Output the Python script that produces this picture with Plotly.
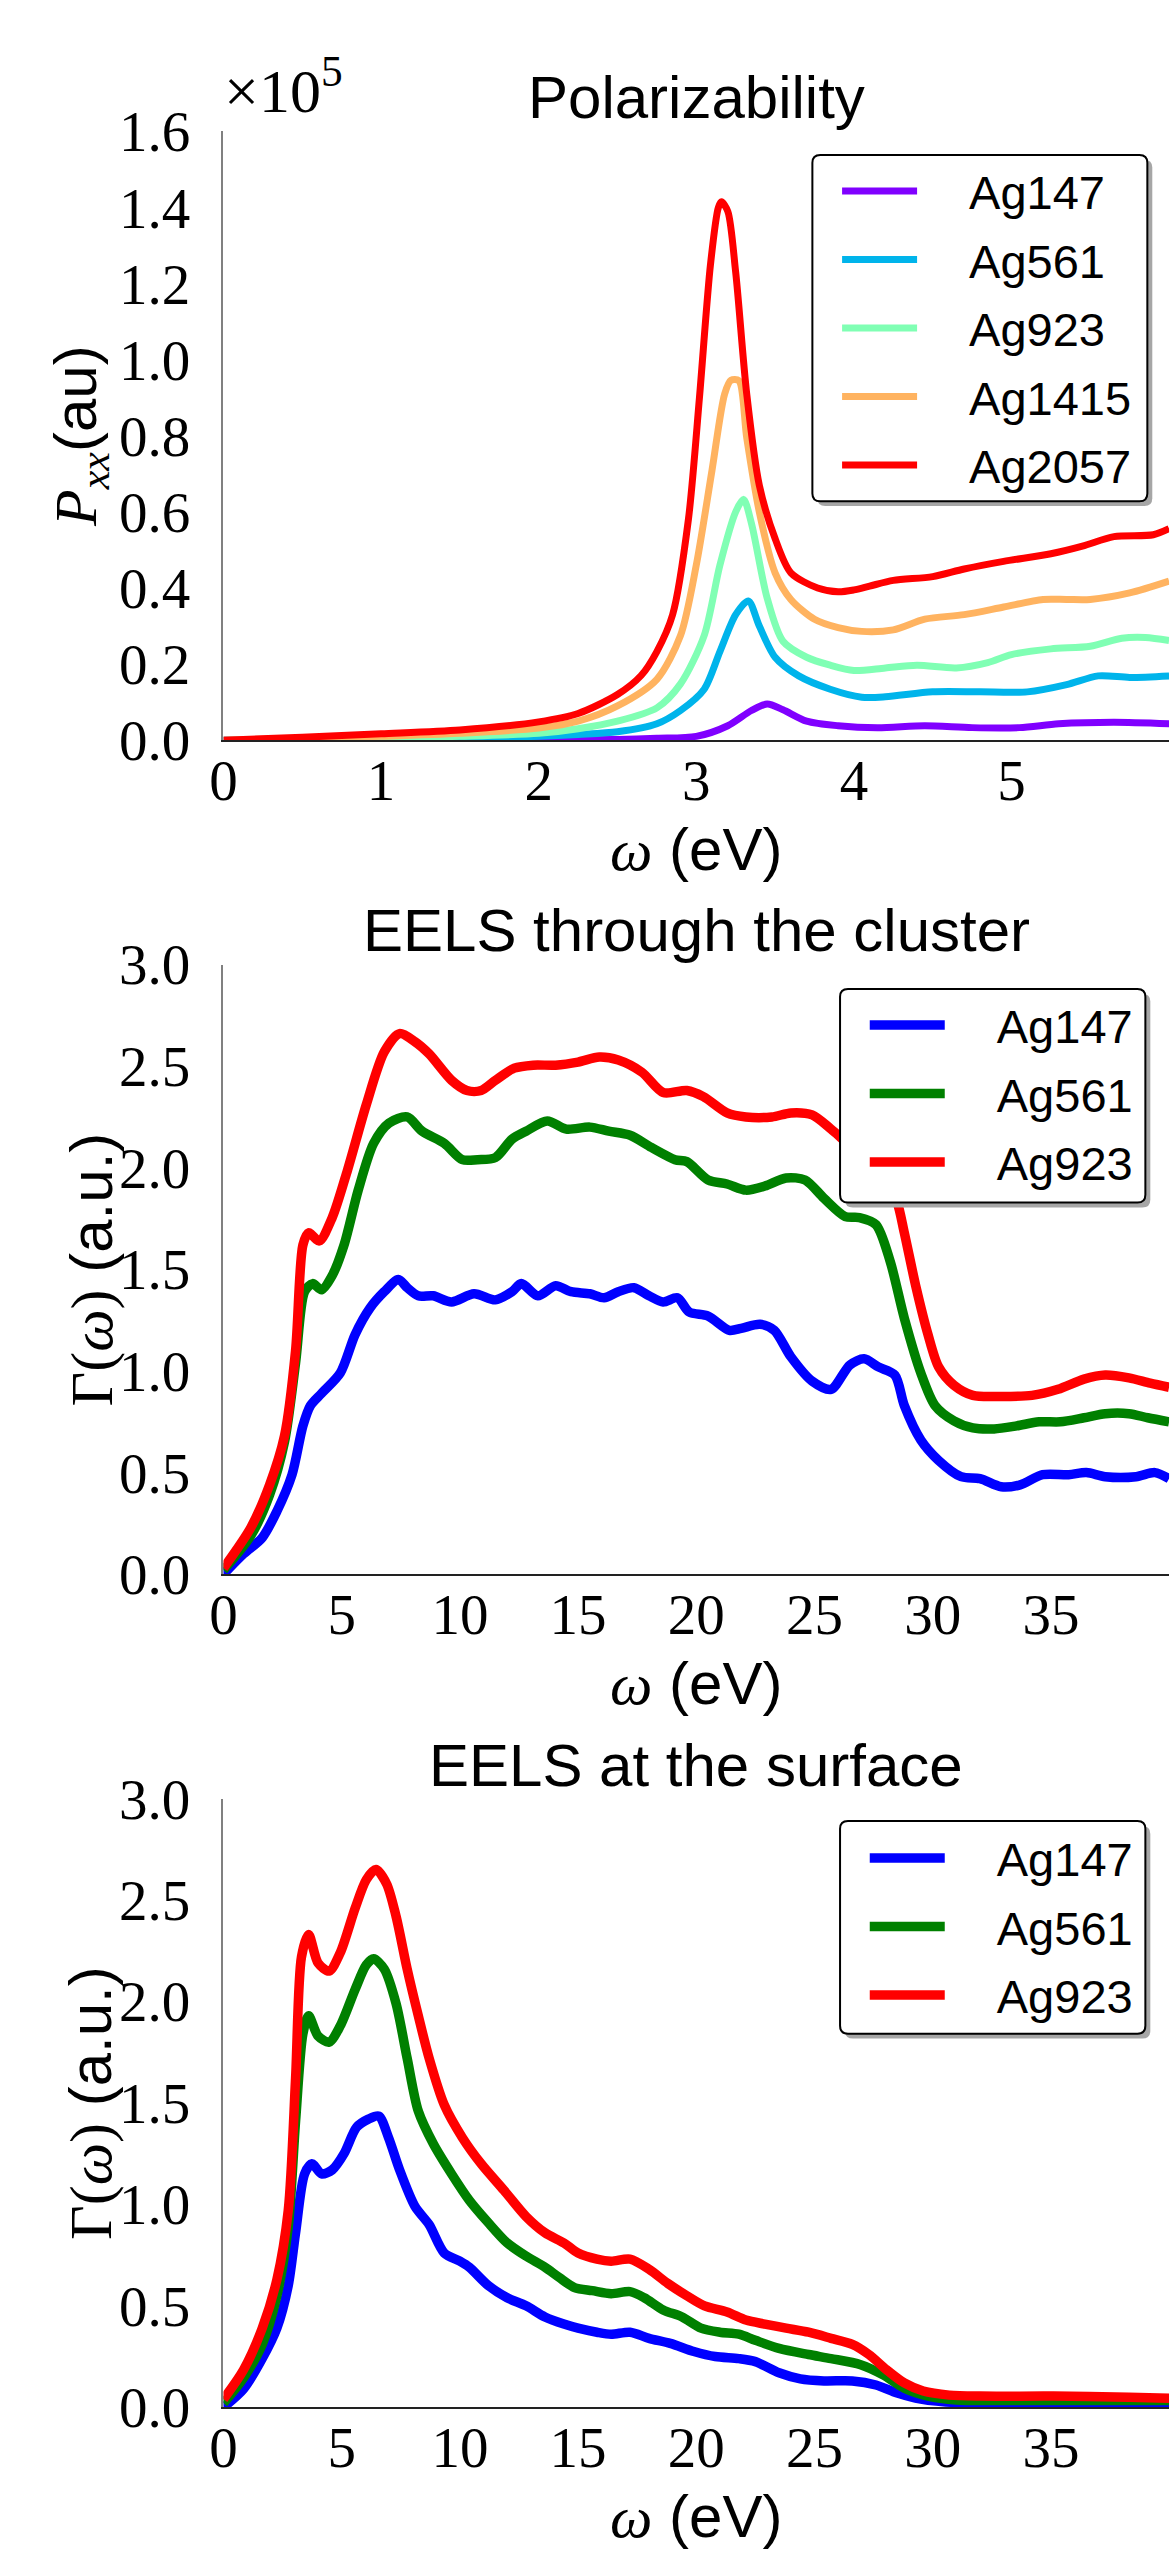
import plotly.graph_objects as go

W, H = 1176, 2570

# ---------------- Panel 1: Polarizability (P_xx in units of 1e5 au) ----------------
pol_names = ["Ag147", "Ag561", "Ag923", "Ag1415", "Ag2057"]
pol_colors = ["#8000ff", "#00b4eb", "#80ffb4", "#ffb360", "#ff0000"]

pol_ag147_x = [0, 1.0, 2.0, 2.5, 2.75, 3.0, 3.2, 3.35, 3.45, 3.55, 3.7, 3.9, 4.15, 4.45, 4.75, 5.05, 5.3, 5.65, 6.0]
pol_ag147_y = [0, 0.0, 0.001, 0.002, 0.005, 0.01, 0.038, 0.078, 0.095, 0.08, 0.05, 0.038, 0.033, 0.038, 0.033, 0.033, 0.043, 0.047, 0.043]

pol_ag561_x = [0, 1.0, 1.5, 2.0, 2.25, 2.5, 2.75, 2.9, 3.05, 3.15, 3.25, 3.33, 3.4, 3.5, 3.65, 3.85, 4.05, 4.2, 4.5, 4.8, 5.1, 5.35, 5.55, 5.75, 6.0]
pol_ag561_y = [0, 0.002, 0.005, 0.01, 0.015, 0.022, 0.043, 0.078, 0.134, 0.233, 0.33, 0.366, 0.30, 0.218, 0.169, 0.134, 0.113, 0.114, 0.127, 0.127, 0.127, 0.146, 0.169, 0.165, 0.169]

pol_ag923_x = [0, 1.0, 1.5, 2.0, 2.25, 2.5, 2.75, 2.9, 3.05, 3.15, 3.25, 3.3, 3.35, 3.45, 3.55, 3.7, 3.85, 4.0, 4.2, 4.4, 4.65, 4.85, 5.0, 5.25, 5.5, 5.7, 5.85, 6.0]
pol_ag923_y = [0, 0.005, 0.01, 0.018, 0.03, 0.05, 0.085, 0.148, 0.275, 0.46, 0.60, 0.633, 0.57, 0.373, 0.26, 0.218, 0.197, 0.183, 0.19, 0.197, 0.19, 0.204, 0.225, 0.24, 0.247, 0.268, 0.27, 0.262]

pol_ag1415_x = [0, 0.5, 1.0, 1.5, 2.0, 2.25, 2.5, 2.75, 2.9, 3.0, 3.1, 3.18, 3.22, 3.27, 3.32, 3.4, 3.5, 3.6, 3.75, 3.9, 4.05, 4.25, 4.45, 4.7, 4.95, 5.2, 5.35, 5.5, 5.75, 6.0]
pol_ag1415_y = [0, 0.004, 0.01, 0.018, 0.032, 0.05, 0.09, 0.16, 0.275, 0.46, 0.71, 0.91, 0.946, 0.945, 0.795, 0.60, 0.44, 0.37, 0.318, 0.296, 0.286, 0.29, 0.318, 0.33, 0.35, 0.37, 0.37, 0.37, 0.387, 0.418]

pol_ag2057_x = [0, 0.5, 1.0, 1.5, 2.0, 2.25, 2.5, 2.65, 2.75, 2.85, 2.95, 3.02, 3.09, 3.14, 3.16, 3.2, 3.25, 3.32, 3.4, 3.5, 3.6, 3.77, 3.9, 4.0, 4.1, 4.25, 4.5, 4.7, 4.95, 5.25, 5.45, 5.65, 5.9, 6.0]
pol_ag2057_y = [0.0, 0.008, 0.017, 0.027, 0.048, 0.07, 0.12, 0.17, 0.233, 0.33, 0.58, 0.90, 1.25, 1.40, 1.415, 1.39, 1.23, 0.91, 0.67, 0.53, 0.44, 0.40, 0.39, 0.395, 0.405, 0.42, 0.43, 0.45, 0.47, 0.49, 0.51, 0.535, 0.54, 0.556]

# ---------------- Panels 2/3: EELS ----------------
eels_names = ["Ag147", "Ag561", "Ag923"]
eels_colors = ["#0000ff", "#008000", "#ff0000"]

thr_ag147_x = [0, 0.85, 1.64, 2.26, 2.9, 3.36, 3.68, 4.15, 4.94, 5.57, 6.2, 6.8, 7.4, 7.77, 8.24, 8.87, 9.65, 10.6, 11.5, 12.2, 12.6, 13.3, 14.05, 14.7, 15.5, 16.1, 16.7, 17.36, 18.0, 18.6, 19.2, 19.7, 20.5, 21.4, 21.9, 22.7, 23.3, 24.0, 24.9, 25.7, 26.5, 27.1, 27.7, 28.4, 28.8, 29.5, 30.25, 31.2, 32.0, 32.9, 33.7, 34.65, 35.75, 36.5, 37.3, 38.6, 39.4, 40.0]
thr_ag147_y = [0.0, 0.1, 0.18, 0.31, 0.49, 0.73, 0.83, 0.89, 0.99, 1.18, 1.31, 1.39, 1.45, 1.41, 1.37, 1.37, 1.34, 1.38, 1.35, 1.39, 1.43, 1.37, 1.42, 1.39, 1.38, 1.36, 1.39, 1.41, 1.37, 1.34, 1.36, 1.29, 1.27, 1.20, 1.21, 1.23, 1.20, 1.07, 0.95, 0.91, 1.03, 1.06, 1.02, 0.98, 0.83, 0.66, 0.56, 0.48, 0.47, 0.43, 0.44, 0.49, 0.49, 0.50, 0.48, 0.48, 0.50, 0.47]

thr_ag561_x = [0, 1.16, 1.95, 2.58, 3.05, 3.43, 3.77, 4.15, 4.6, 5.1, 5.7, 6.35, 7.0, 7.77, 8.4, 9.34, 10.1, 10.75, 11.5, 12.2, 12.8, 13.7, 14.5, 15.5, 16.3, 17.2, 18.1, 19.1, 19.6, 20.5, 21.3, 22.1, 22.9, 23.8, 24.6, 25.4, 26.3, 26.9, 27.6, 28.2, 28.8, 29.5, 30.1, 30.9, 31.7, 32.6, 33.55, 34.5, 35.4, 36.4, 37.3, 38.3, 39.1, 40.0]
thr_ag561_y = [0.02, 0.19, 0.39, 0.65, 1.04, 1.39, 1.43, 1.40, 1.47, 1.62, 1.89, 2.12, 2.22, 2.25, 2.18, 2.12, 2.04, 2.04, 2.05, 2.14, 2.18, 2.23, 2.19, 2.2, 2.18, 2.16, 2.10, 2.04, 2.03, 1.94, 1.92, 1.89, 1.91, 1.95, 1.94, 1.85, 1.76, 1.755, 1.72, 1.54, 1.26, 0.99, 0.83, 0.755, 0.72, 0.715, 0.73, 0.75, 0.75, 0.77, 0.79, 0.79, 0.77, 0.75]

thr_ag923_x = [0, 1.16, 1.95, 2.58, 3.05, 3.36, 3.6, 4.05, 4.6, 5.25, 6.04, 6.8, 7.45, 8.1, 8.7, 9.65, 10.3, 10.9, 11.5, 12.3, 13.1, 14.05, 15.0, 15.9, 16.7, 17.7, 18.6, 19.6, 20.3, 21.3, 22.1, 23.2, 24.0, 24.9, 25.7, 26.2, 27.0, 28.0, 28.5, 28.8, 29.3, 29.8, 30.25, 30.9, 31.7, 32.9, 34.2, 35.3, 36.4, 37.3, 38.3, 39.2, 40.0]
thr_ag923_y = [0.03, 0.23, 0.44, 0.68, 1.10, 1.62, 1.68, 1.64, 1.755, 1.99, 2.31, 2.57, 2.66, 2.62, 2.56, 2.43, 2.38, 2.38, 2.43, 2.49, 2.505, 2.505, 2.52, 2.545, 2.53, 2.47, 2.37, 2.38, 2.35, 2.27, 2.25, 2.25, 2.27, 2.26, 2.19, 2.14, 2.06, 1.95, 1.83, 1.68, 1.41, 1.18, 1.02, 0.93, 0.88, 0.875, 0.88, 0.91, 0.96, 0.98, 0.966, 0.94, 0.92]

srf_ag147_x = [0, 0.85, 1.64, 2.26, 2.74, 3.05, 3.43, 3.74, 4.15, 4.6, 5.1, 5.63, 6.13, 6.57, 6.98, 7.45, 8.1, 8.7, 9.34, 10.0, 10.4, 11.2, 12.0, 12.8, 13.6, 14.4, 15.0, 15.8, 16.4, 17.2, 18.0, 18.9, 19.9, 20.8, 21.8, 22.5, 23.5, 24.4, 25.4, 26.6, 27.6, 28.5, 29.5, 31.0, 35.1, 40.0]
srf_ag147_y = [0.0, 0.09, 0.24, 0.39, 0.6, 0.86, 1.15, 1.20, 1.15, 1.17, 1.25, 1.38, 1.42, 1.435, 1.33, 1.17, 0.99, 0.90, 0.76, 0.72, 0.69, 0.60, 0.54, 0.50, 0.445, 0.41, 0.39, 0.37, 0.36, 0.37, 0.34, 0.315, 0.275, 0.25, 0.24, 0.225, 0.17, 0.14, 0.13, 0.13, 0.11, 0.07, 0.04, 0.023, 0.023, 0.02]

srf_ag561_x = [0, 0.85, 1.64, 2.26, 2.74, 3.05, 3.36, 3.6, 4.0, 4.47, 4.94, 5.57, 6.04, 6.35, 6.8, 7.3, 7.77, 8.24, 8.87, 9.65, 10.4, 11.2, 12.0, 12.8, 13.6, 14.2, 14.85, 15.6, 16.4, 17.2, 17.8, 18.6, 19.4, 20.2, 21.0, 21.8, 22.5, 23.5, 24.75, 25.7, 26.95, 27.9, 28.8, 29.8, 31.0, 33.55, 36.7, 40.0]
srf_ag561_y = [0.02, 0.145, 0.31, 0.55, 0.89, 1.41, 1.84, 1.93, 1.83, 1.80, 1.88, 2.06, 2.18, 2.21, 2.16, 1.99, 1.72, 1.46, 1.30, 1.15, 1.02, 0.91, 0.81, 0.745, 0.69, 0.64, 0.59, 0.575, 0.56, 0.57, 0.54, 0.48, 0.445, 0.39, 0.37, 0.36, 0.33, 0.29, 0.26, 0.24, 0.21, 0.16, 0.094, 0.055, 0.036, 0.034, 0.034, 0.034]

srf_ag923_x = [0, 0.85, 1.64, 2.26, 2.74, 3.05, 3.3, 3.6, 4.0, 4.47, 4.94, 5.57, 6.04, 6.45, 6.9, 7.3, 7.77, 8.24, 8.7, 9.34, 10.1, 10.9, 11.86, 12.8, 13.6, 14.4, 15.0, 15.8, 16.4, 17.2, 18.0, 18.8, 19.6, 20.35, 21.3, 22.1, 22.9, 23.8, 24.75, 25.7, 26.6, 27.3, 28.05, 28.8, 29.6, 30.7, 32.0, 35.1, 38.3, 40.0]
srf_ag923_y = [0.04, 0.185, 0.39, 0.63, 0.97, 1.62, 2.22, 2.33, 2.19, 2.15, 2.24, 2.46, 2.60, 2.65, 2.58, 2.42, 2.16, 1.93, 1.72, 1.49, 1.33, 1.20, 1.07, 0.94, 0.86, 0.81, 0.76, 0.73, 0.72, 0.73, 0.68, 0.61, 0.55, 0.50, 0.47, 0.43, 0.41, 0.39, 0.37, 0.34, 0.31, 0.26, 0.185, 0.12, 0.08, 0.06, 0.055, 0.055, 0.05, 0.045]

titles = ["Polarizability", "EELS through the cluster", "EELS at the surface"]
pol_x_ticks = [0, 1, 2, 3, 4, 5, 6]
pol_y_ticks = [0.0, 0.2, 0.4, 0.6, 0.8, 1.0, 1.2, 1.4, 1.6]
eels_x_ticks = [0, 5, 10, 15, 20, 25, 30, 35, 40]
eels_y_ticks = [0.0, 0.5, 1.0, 1.5, 2.0, 2.5, 3.0]

# ---------------- layout geometry (pixels) ----------------
PX0, PX1 = 212, 1169
panels_px = [(103, 727), (957, 1582), (1812, 2436)]  # (top, bottom)
xlabel_offset = 112


def fx(px):
    return px / W


def fy(py):
    return 1 - py / H


SANS = "Liberation Sans"
SERIF = "Liberation Serif"
pad = "\u2002\u2002"

fig = go.Figure()

pol_series = [(pol_ag147_x, pol_ag147_y), (pol_ag561_x, pol_ag561_y), (pol_ag923_x, pol_ag923_y),
              (pol_ag1415_x, pol_ag1415_y), (pol_ag2057_x, pol_ag2057_y)]
for name, col, (xs, ys) in zip(pol_names, pol_colors, pol_series):
    fig.add_trace(go.Scatter(x=xs, y=ys, mode="lines", name=pad + name,
                             line=dict(color=col, width=7, shape="spline", smoothing=0.8),
                             xaxis="x", yaxis="y", legend="legend", legendgroup="p1" + name))

thr_series = [(thr_ag147_x, thr_ag147_y), (thr_ag561_x, thr_ag561_y), (thr_ag923_x, thr_ag923_y)]
for name, col, (xs, ys) in zip(eels_names, eels_colors, thr_series):
    fig.add_trace(go.Scatter(x=xs, y=ys, mode="lines", name=pad + name,
                             line=dict(color=col, width=9.5, shape="spline", smoothing=0.8),
                             xaxis="x2", yaxis="y2", legend="legend2", legendgroup="p2" + name))

srf_series = [(srf_ag147_x, srf_ag147_y), (srf_ag561_x, srf_ag561_y), (srf_ag923_x, srf_ag923_y)]
for name, col, (xs, ys) in zip(eels_names, eels_colors, srf_series):
    fig.add_trace(go.Scatter(x=xs, y=ys, mode="lines", name=pad + name,
                             line=dict(color=col, width=9.5, shape="spline", smoothing=0.8),
                             xaxis="x3", yaxis="y3", legend="legend3", legendgroup="p3" + name))

tickfont = dict(family=SERIF, size=57, color="black")


def xaxis(anchor, rng, ticks):
    return dict(domain=[fx(PX0), fx(PX1)], anchor=anchor, range=rng, tickvals=ticks,
                showgrid=False, zeroline=False, showline=True, linecolor="#222222", linewidth=1.5,
                ticks="", tickfont=tickfont, ticklabelstandoff=-10, fixedrange=True)


def yaxis(anchor, top, bot, rng, ticks):
    return dict(domain=[fy(bot), fy(top)], anchor=anchor, range=rng, tickvals=ticks, tickformat=".1f",
                showgrid=False, zeroline=False, showline=True, linecolor="#808080", linewidth=1.5,
                ticks="", tickfont=tickfont, ticklabelstandoff=20, fixedrange=True)


legend_common = dict(xanchor="left", yanchor="top", bgcolor="rgba(0,0,0,0)", borderwidth=0,
                     font=dict(family=SANS, size=47, color="black"), itemwidth=75,
                     tracegroupgap=4.4, orientation="v")

fig.update_layout(
    width=W, height=H, margin=dict(l=0, r=0, t=0, b=0),
    paper_bgcolor="white", plot_bgcolor="white",
    font=dict(family=SANS, color="black"),
    xaxis=xaxis("y", [0, 6], pol_x_ticks),
    yaxis=yaxis("x", *panels_px[0], [0, 1.6], pol_y_ticks),
    xaxis2=xaxis("y2", [0, 40], eels_x_ticks),
    yaxis2=yaxis("x2", *panels_px[1], [0, 3], eels_y_ticks),
    xaxis3=xaxis("y3", [0, 40], eels_x_ticks),
    yaxis3=yaxis("x3", *panels_px[2], [0, 3], eels_y_ticks),
    legend=dict(x=fx(833), y=fy(126), **legend_common),
    legend2=dict(x=fx(861), y=fy(981), **legend_common),
    legend3=dict(x=fx(861), y=fy(1835), **legend_common),
    showlegend=True,
)


# legend frames: rounded box with offset shadow
def rrect(x0, y0, x1, y1, r):
    return (f"M{fx(x0 + r)},{fy(y0)} L{fx(x1 - r)},{fy(y0)} Q{fx(x1)},{fy(y0)} {fx(x1)},{fy(y0 + r)} "
            f"L{fx(x1)},{fy(y1 - r)} Q{fx(x1)},{fy(y1)} {fx(x1 - r)},{fy(y1)} "
            f"L{fx(x0 + r)},{fy(y1)} Q{fx(x0)},{fy(y1)} {fx(x0)},{fy(y1 - r)} "
            f"L{fx(x0)},{fy(y0 + r)} Q{fx(x0)},{fy(y0)} {fx(x0 + r)},{fy(y0)} Z")


legend_boxes = [(808, 127, 1147, 482), (836, 982, 1145, 1201), (836, 1835, 1145, 2053)]
shapes = []
for (x0, y0, x1, y1) in legend_boxes:
    shapes.append(dict(type="path", xref="paper", yref="paper", layer="above",
                       path=rrect(x0 + 5, y0 + 5, x1 + 5, y1 + 5, 8),
                       fillcolor="#a6a6a6", line=dict(width=0)))
    shapes.append(dict(type="path", xref="paper", yref="paper", layer="above",
                       path=rrect(x0, y0, x1, y1, 8),
                       fillcolor="white", line=dict(color="black", width=2)))
fig.update_layout(shapes=shapes)

xlabel = f'<span style="font-family:{SERIF}"><i>ω</i></span> (eV)'
ylabels = [f'<span style="font-family:{SERIF}"><i>P</i><sub><i>xx</i></sub></span>(au)',
           f'<span style="font-family:{SERIF}">Γ(<i>ω</i>)</span> (a.u.)',
           f'<span style="font-family:{SERIF}">Γ(<i>ω</i>)</span> (a.u.)']
ylabel_x = [67, 78, 78]

annotations = []
cx = (PX0 + PX1) / 2
for i, (top, bot) in enumerate(panels_px):
    annotations.append(dict(text=titles[i], xref="paper", yref="paper", x=fx(cx), y=fy(top + 2),
                            xanchor="center", yanchor="bottom", showarrow=False,
                            font=dict(family=SANS, size=60, color="black")))
    annotations.append(dict(text=xlabel, xref="paper", yref="paper", x=fx(cx),
                            y=fy(bot + xlabel_offset),
                            xanchor="center", yanchor="middle", showarrow=False,
                            font=dict(family=SANS, size=60, color="black")))
    annotations.append(dict(text=ylabels[i], xref="paper", yref="paper", x=fx(ylabel_x[i]),
                            y=fy((top + bot) / 2), xanchor="center", yanchor="middle",
                            textangle=-90, showarrow=False,
                            font=dict(family=SANS, size=60, color="black")))
annotations.append(dict(text="×10<sup>5</sup>", xref="paper", yref="paper", x=fx(210), y=fy(98),
                        xanchor="left", yanchor="bottom", showarrow=False,
                        font=dict(family=SERIF, size=62, color="black")))
fig.update_layout(annotations=annotations)

fig.write_html("out.html")
